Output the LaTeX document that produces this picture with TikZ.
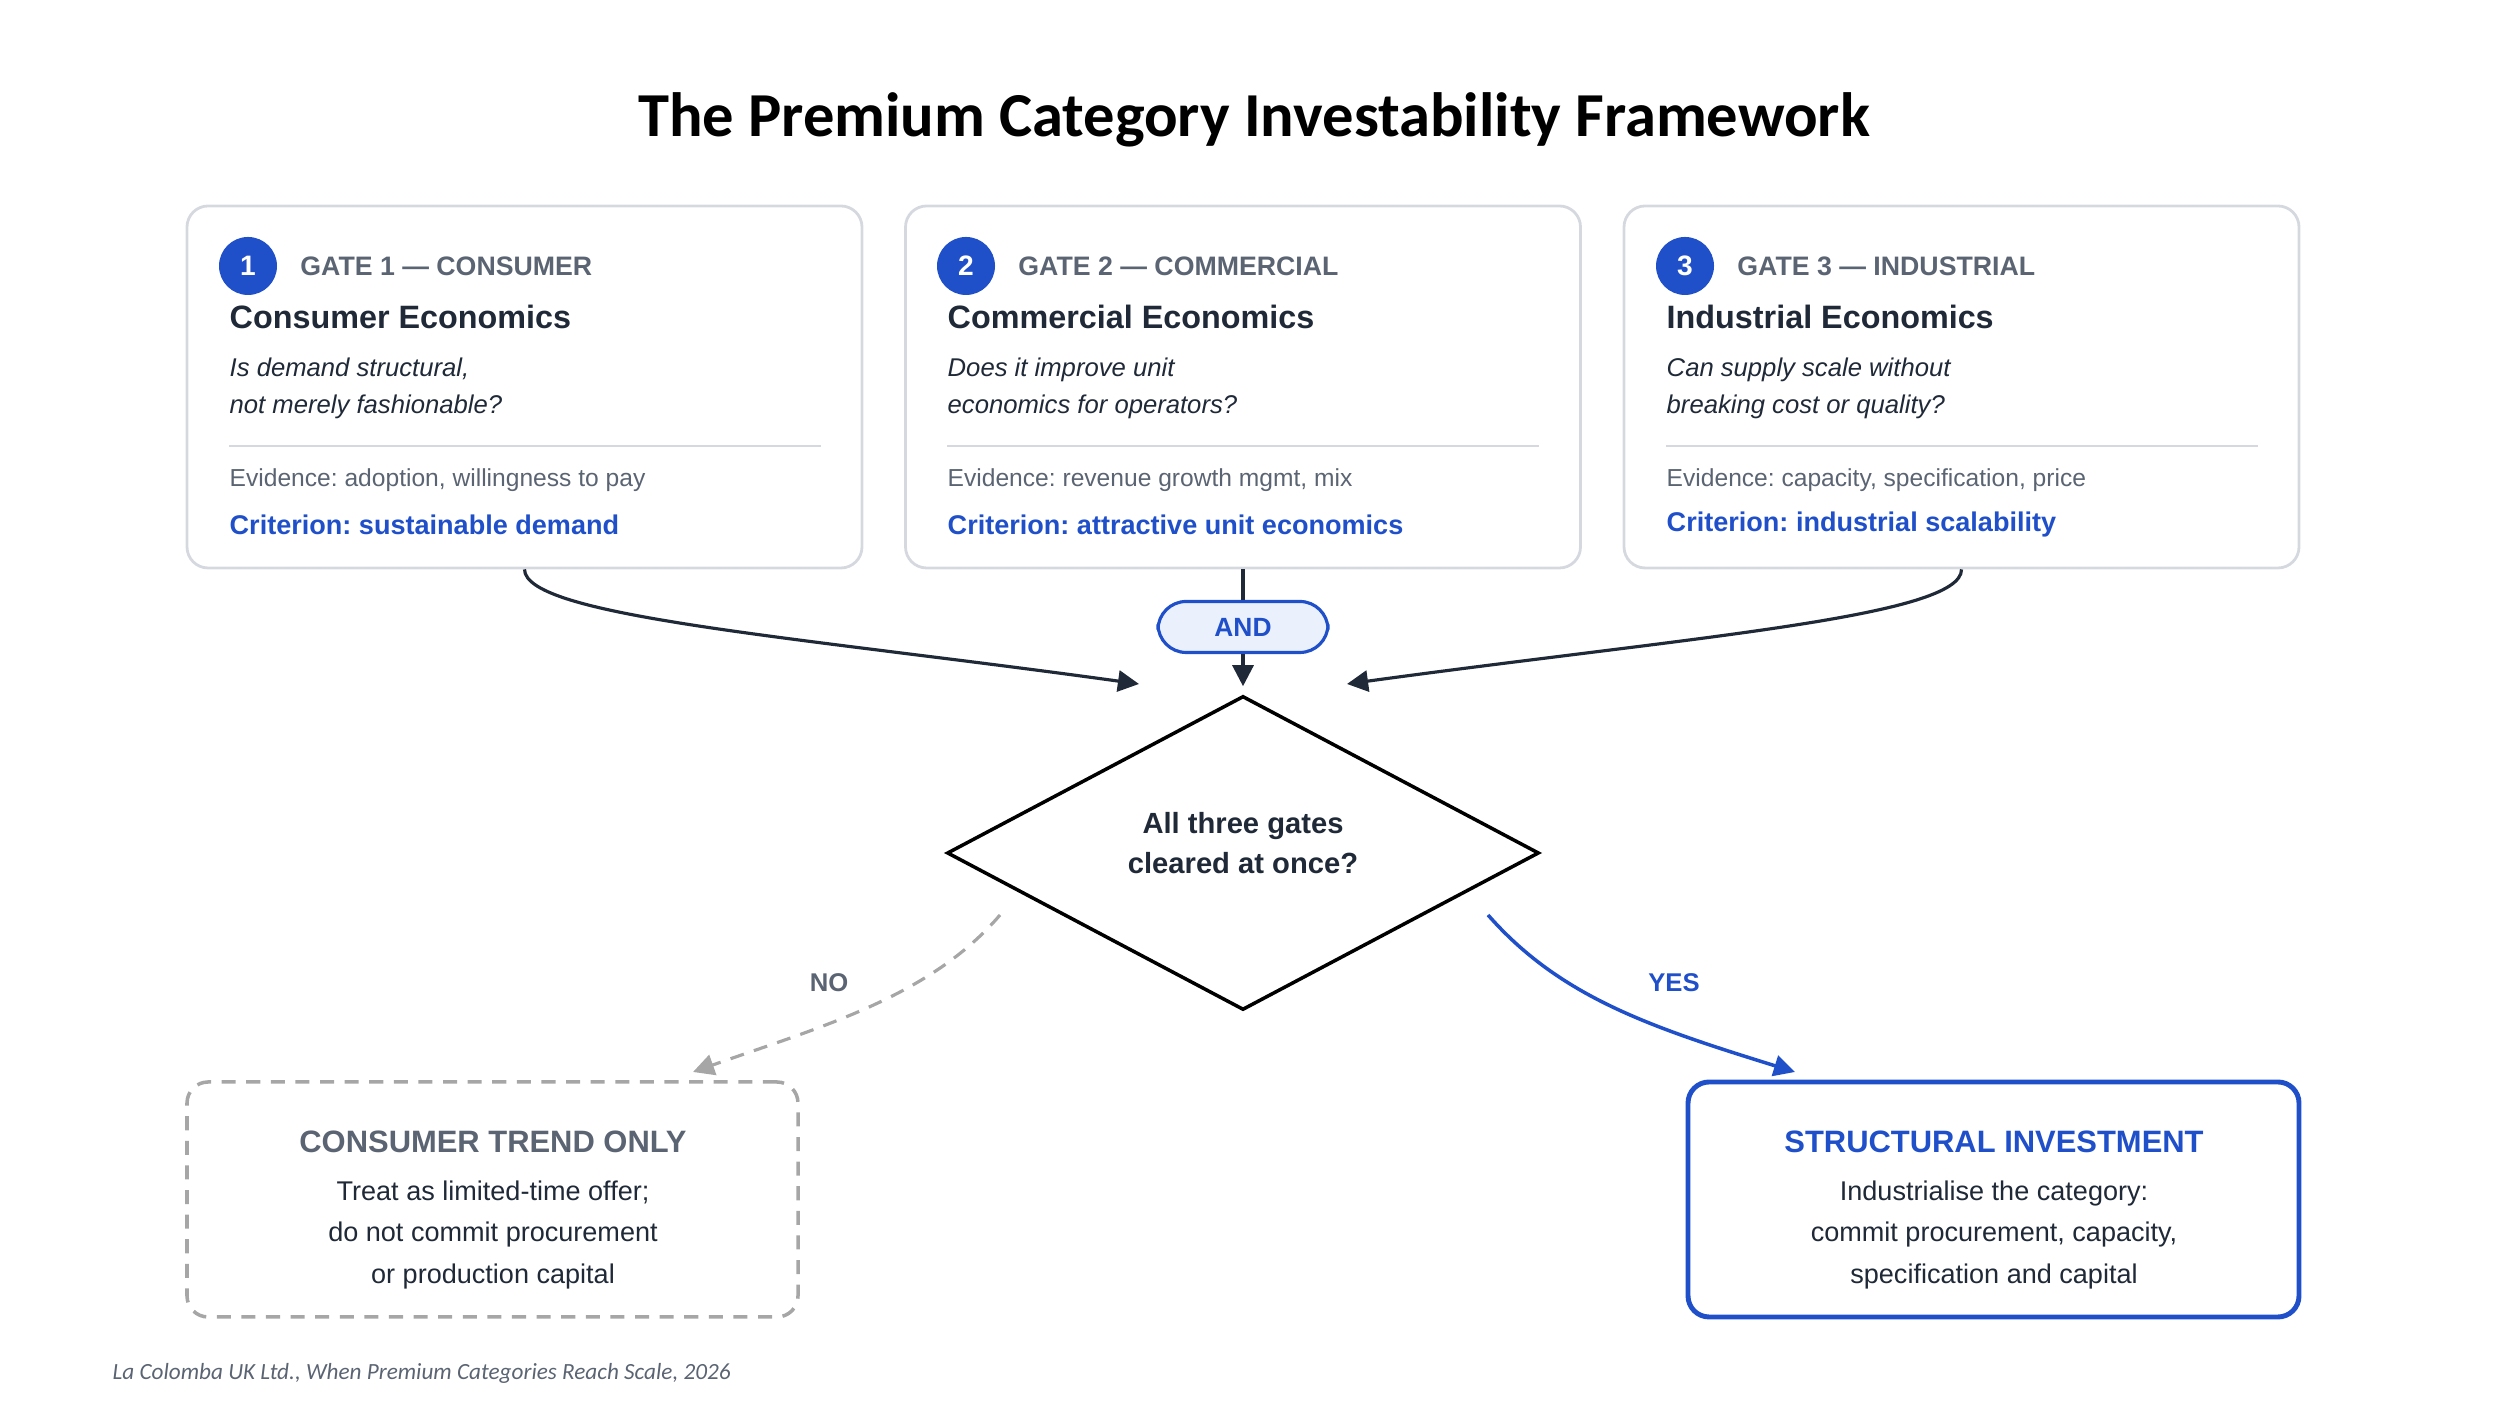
\documentclass[tikz,border=0pt]{standalone}
\usepackage{fontspec}
\setmainfont{Liberation Sans}
\newfontfamily\titlefont{Carlito}
\frenchspacing
\usetikzlibrary{shapes.geometric, arrows.meta, positioning}
\definecolor{ink}{HTML}{1F2937}
\definecolor{muted}{HTML}{5B6472}
\definecolor{accent}{HTML}{1F4FC9}
\definecolor{rule}{HTML}{D5D9DF}
\definecolor{pale}{HTML}{EAF1FD}
\tikzstyle{gate} = [rectangle, rounded corners=6pt, minimum width=6.75cm, minimum height=3.62cm, draw=rule, line width=0.8pt]
\tikzstyle{badge} = [circle, fill=accent, text=white, font=\bfseries\fontsize{8}{9}\selectfont, minimum size=0.58cm, inner sep=0pt]
\tikzstyle{tag} = [anchor=west, text=muted, font=\bfseries\fontsize{7.6}{8}\selectfont]
\tikzstyle{head} = [anchor=west, text=ink, font=\bfseries\fontsize{9.2}{10}\selectfont, inner sep=0pt]
\tikzstyle{question} = [anchor=north west, text=ink, align=left, font=\itshape\fontsize{7.3}{10.5}\selectfont, inner sep=0pt]
\tikzstyle{evidence} = [anchor=west, text=muted, font=\fontsize{7}{8}\selectfont, inner sep=0pt]
\tikzstyle{criterion} = [anchor=west, text=accent, font=\bfseries\fontsize{7.7}{8}\selectfont, inner sep=0pt]
\tikzstyle{outcome} = [rectangle, rounded corners=6pt, minimum width=6.11cm, minimum height=2.35cm, line width=1pt, align=center]
\tikzstyle{arrow} = [line width=0.9pt, draw=ink, -{Triangle[length=6pt, width=6pt]}]

\begin{document}
\begin{tikzpicture}
\useasboundingbox (0,0) rectangle (25,14.07);

% Title
\node (title) at (12.54,12.87) {\titlefont\bfseries\fontsize{17.8}{20}\selectfont The Premium Category Investability Framework};

% Gate 1
\node (g1) [gate] at (5.245,10.2) {};
\node (b1) [badge] at (2.48,11.41) {1};
\node (t1) [tag] at (2.88,11.41) {GATE 1 --- CONSUMER};
\node (h1) [head] at (2.29,10.90) {Consumer Economics};
\node (q1) [question] at (2.29,10.50) {Is demand structural,\\not merely fashionable?};
\draw [rule, line width=0.6pt] (2.29,9.61) -- (8.21,9.61);
\node (e1) [evidence] at (2.29,9.27) {Evidence: adoption, willingness to pay};
\node (c1) [criterion] at (2.29,8.82) {Criterion: sustainable demand};

% Gate 2
\node (g2) [gate] at (12.43,10.2) {};
\node (b2) [badge] at (9.66,11.41) {2};
\node (t2) [tag] at (10.06,11.41) {GATE 2 --- COMMERCIAL};
\node (h2) [head] at (9.47,10.90) {Commercial Economics};
\node (q2) [question] at (9.47,10.50) {Does it improve unit\\economics for operators?};
\draw [rule, line width=0.6pt] (9.47,9.61) -- (15.39,9.61);
\node (e2) [evidence] at (9.47,9.27) {Evidence: revenue growth mgmt, mix};
\node (c2) [criterion] at (9.47,8.82) {Criterion: attractive unit economics};

% Gate 3
\node (g3) [gate] at (19.615,10.2) {};
\node (b3) [badge] at (16.85,11.41) {3};
\node (t3) [tag] at (17.25,11.41) {GATE 3 --- INDUSTRIAL};
\node (h3) [head] at (16.66,10.90) {Industrial Economics};
\node (q3) [question] at (16.66,10.50) {Can supply scale without\\breaking cost or quality?};
\draw [rule, line width=0.6pt] (16.66,9.61) -- (22.58,9.61);
\node (e3) [evidence] at (16.66,9.27) {Evidence: capacity, specification, price};
\node (c3) [criterion] at (16.66,8.82) {Criterion: industrial scalability};

% Decision
\node (and) [rectangle, rounded corners=8pt, draw=accent, fill=pale, line width=0.9pt, minimum width=1.7cm, minimum height=0.51cm, text=accent, font=\bfseries\fontsize{7.5}{9}\selectfont] at (12.43,7.80) {AND};
\node (check) [diamond, draw=black, line width=1pt, minimum width=5.92cm, minimum height=3.14cm, aspect=1.9, inner sep=0pt] at (12.43,5.54) {};
\node (ask) [align=center, text=ink, font=\bfseries\fontsize{8.3}{11.5}\selectfont] at (12.43,5.64) {All three gates\\cleared at once?};
\coordinate (in1) at (11.39,7.23);
\coordinate (in3) at (13.47,7.23);

% Outcomes
\node (trend) [outcome, draw=gray!70, dashed, dash pattern=on 4pt off 3pt, text=ink] at (4.925,2.075) {};
\node [text=muted, font=\bfseries\fontsize{8.8}{10}\selectfont] at (4.93,2.65) {CONSUMER TREND ONLY};
\node [text=ink, align=center, font=\fontsize{7.7}{11.7}\selectfont] at (4.93,1.72) {Treat as limited-time offer;\\do not commit procurement\\or production capital};
\node (invest) [outcome, draw=accent, line width=1.4pt] at (19.935,2.075) {};
\node [text=accent, font=\bfseries\fontsize{8.8}{10}\selectfont] at (19.94,2.65) {STRUCTURAL INVESTMENT};
\node [text=ink, align=center, font=\fontsize{7.7}{11.7}\selectfont] at (19.94,1.72) {Industrialise the category:\\commit procurement, capacity,\\specification and capital};

% Arrows
\draw [arrow] (g1.south) .. controls (5.25,7.9) and (8,7.7) .. (in1);
\draw [arrow] (g3.south) .. controls (19.62,7.9) and (16.9,7.7) .. (in3);
\draw [line width=0.9pt, draw=ink] (g2.south) -- (and.north);
\draw [arrow] (and.south) -- ([yshift=0.08cm]check.north);
\draw [draw=gray!70, line width=0.9pt, dashed, dash pattern=on 4pt off 3pt, -{Triangle[length=6pt, width=6pt]}] (10.0,4.92) .. controls (9.3,4.1) and (8.2,3.8) .. (6.93,3.35);
\node (no) [text=muted, font=\bfseries\fontsize{7.3}{8}\selectfont] at (8.29,4.24) {NO};
\draw [draw=accent, line width=1pt, -{Triangle[length=6pt, width=6pt]}] (14.88,4.92) .. controls (15.6,4.1) and (16.5,3.8) .. (17.95,3.35);
\node (yes) [text=accent, font=\bfseries\fontsize{7.3}{8}\selectfont] at (16.74,4.24) {YES};

% Footer
\node (src) [anchor=west, text=muted, inner sep=0pt] at (1.12,0.34) {\titlefont\itshape\fontsize{6.6}{7}\selectfont La Colomba UK Ltd., When Premium Categories Reach Scale, 2026};
\end{tikzpicture}
\end{document}
